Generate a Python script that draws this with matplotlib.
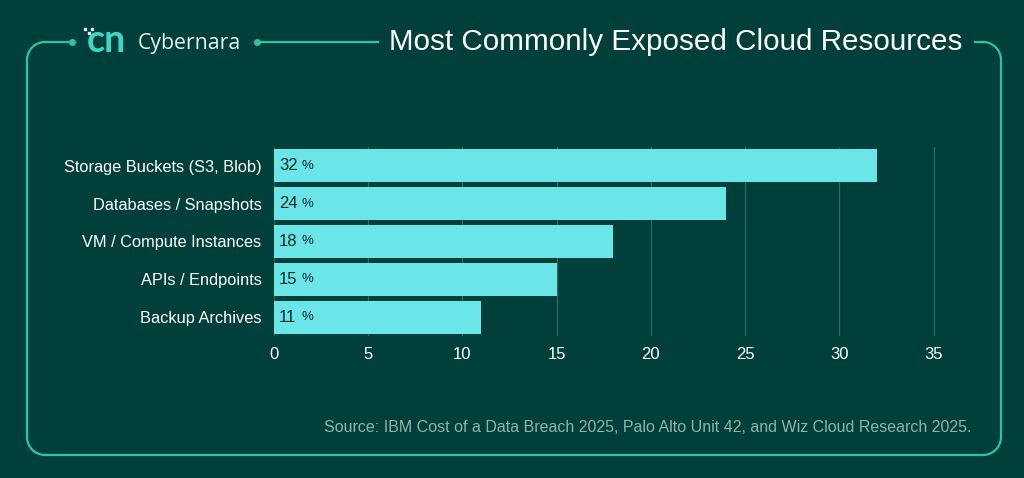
import matplotlib.pyplot as plt
from matplotlib.patches import Arc, Rectangle
import numpy as np

# ---- data ----
categories = ["Storage Buckets (S3, Blob)", "Databases / Snapshots",
              "VM / Compute Instances", "APIs / Endpoints", "Backup Archives"]
values = [32, 24, 18, 15, 11]
x_ticks = [0, 5, 10, 15, 20, 25, 30, 35]

title = "Most Commonly Exposed Cloud Resources"
brand = "Cybernara"
source = "Source: IBM Cost of a Data Breach 2025, Palo Alto Unit 42, and Wiz Cloud Research 2025."

BG = "#01403a"
BAR = "#6ae6e8"
FRAME = "#2dc4a2"
GRID = "#2f6b62"
TXT = "#ffffff"

plt.rcParams['font.family'] = ['Liberation Sans', 'DejaVu Sans']

fig = plt.figure(figsize=(10.24, 4.78), dpi=100, facecolor=BG)

# ---- decoration layer in pixel coords ----
deco = fig.add_axes([0, 0, 1, 1], zorder=0)
deco.set_xlim(0, 1024)
deco.set_ylim(478, 0)
deco.axis("off")
deco.set_facecolor(BG)

L, R, T, B, r = 27, 1001, 42, 455, 18
lw = 1.6
# left, bottom, right edges
deco.plot([L, L], [T + r, B - r], color=FRAME, lw=lw)
deco.plot([L + r, R - r], [B, B], color=FRAME, lw=lw)
deco.plot([R, R], [T + r, B - r], color=FRAME, lw=lw)
# corners
for cx, cy, t1, t2 in [(L + r, T + r, 180, 270), (L + r, B - r, 90, 180),
                       (R - r, B - r, 0, 90), (R - r, T + r, 270, 360)]:
    deco.add_patch(Arc((cx, cy), 2 * r, 2 * r, theta1=t1, theta2=t2,
                       color=FRAME, lw=lw))
# top segments
deco.plot([L + r, 72], [T, T], color=FRAME, lw=lw)
deco.plot([257, 378], [T, T], color=FRAME, lw=lw)
deco.plot([975, R - r], [T, T], color=FRAME, lw=lw)
deco.plot([72, 257], [T, T], 'o', color=FRAME, ms=4)

# logo: rough "cn" mark
deco.text(106, T - 1, "cn", color="#3fd8c4", fontsize=27, fontweight="bold",
          ha="center", va="center", family="Lato")
for dx, dy in [(84, 28), (88, 32), (91, 28)]:
    deco.add_patch(Rectangle((dx, dy), 2, 2, color="#dff7f2"))
deco.text(138, T + 1, brand, color="#e8f3f1", fontsize=15.3,
          ha="left", va="center", family="Open Sans")

deco.text(676, T, title, color=TXT, fontsize=21.3, ha="center", va="center")
deco.text(971, 427, source, color="#8fb3ab", fontsize=11.5,
          ha="right", va="center")

# ---- bar chart ----
ax = fig.add_axes([274 / 1024, 1 - 336 / 478, 669 / 1024, 189 / 478], zorder=1)
ax.set_facecolor("none")
y = np.arange(len(categories))
ax.barh(y, values, height=0.87, color=BAR, zorder=2)
ax.set_ylim(len(categories) - 0.5, -0.5)
ax.set_xlim(0, 35.5)
ax.set_xticks(x_ticks)
ax.set_yticks(y)
ax.set_yticklabels(categories)
ax.grid(axis="x", color=GRID, lw=0.9, zorder=0)
ax.tick_params(length=0, colors=TXT, labelsize=11.8)
ax.tick_params(axis="y", pad=9)
ax.tick_params(axis="x", pad=8, labelsize=12)
for s in ax.spines.values():
    s.set_visible(False)

for yi, v in zip(y, values):
    ax.annotate(str(v), (0, yi), xytext=(5, 0), textcoords="offset pixels",
                ha="left", va="center", color="#0b2a27", fontsize=12)
    ax.annotate("%", (0, yi), xytext=(27, 0), textcoords="offset pixels",
                ha="left", va="center", color="#0b2a27", fontsize=9.5)

fig.savefig("out.png", dpi=100, facecolor=BG)
